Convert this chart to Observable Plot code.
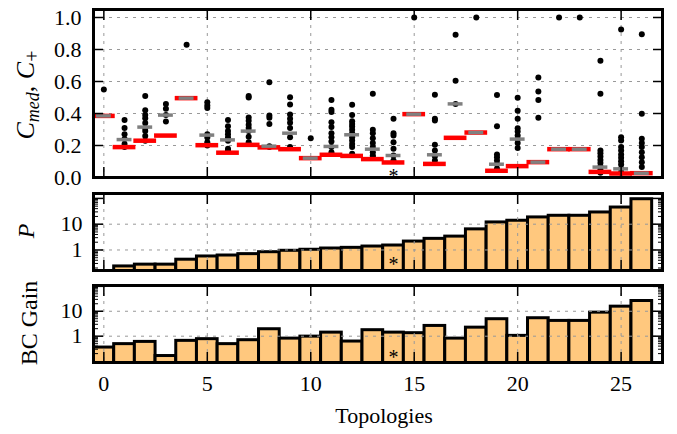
<!DOCTYPE html>
<html>
<head>
<meta charset="utf-8">
<script src="https://cdn.jsdelivr.net/npm/d3@7"></script>
<script src="https://cdn.jsdelivr.net/npm/@observablehq/plot@0.6"></script>
<style>
  body { margin: 0; background: #fff; }
  #chart { position: relative; width: 677px; height: 434px; overflow: hidden; font-family: "Liberation Serif", "Times New Roman", "DejaVu Serif", serif; }
  #chart > svg { position: absolute; left: 0; overflow: visible; }
  #chart text { font-family: "Liberation Serif", "Times New Roman", "DejaVu Serif", serif; }
</style>
</head>
<body>
<div id="chart"></div>
<script>
// ---------- data ----------
const topologies = [0,1,2,3,4,5,6,7,8,9,10,11,12,13,14,15,16,17,18,19,20,21,22,23,24,25,26];
const cMed = [0.385,0.19,0.23,0.262,0.496,0.202,0.155,0.204,0.188,0.177,0.121,0.142,0.135,0.115,0.094,0.396,0.085,0.248,0.281,0.042,0.071,0.096,0.177,0.177,0.035,0.025,0.027];
const cPlusMedian = [0.385,0.237,0.315,0.39,0.496,0.265,0.235,0.29,0.196,0.277,0.121,0.194,0.267,0.177,0.1375,0.396,0.142,0.46,0.281,0.083,0.24,0.096,0.177,0.177,0.065,0.054,0.027];
const cPlusValues = [
  [0.55],
  [0.36,0.31,0.27,0.24,0.21,0.19],
  [0.51,0.42,0.39,0.37,0.34,0.31,0.29,0.26,0.23],
  [0.46,0.43,0.39,0.35],
  [0.83],
  [0.47,0.45,0.435,0.27,0.25,0.22,0.2],
  [0.36,0.32,0.29,0.27,0.25,0.23,0.18,0.17],
  [0.51,0.5,0.375,0.355,0.33,0.31,0.29,0.255,0.22],
  [0.596,0.388,0.373,0.335,0.196,0.19],
  [0.502,0.456,0.394,0.367,0.342,0.31,0.252,0.19],
  [0.246],
  [0.485,0.423,0.41,0.346,0.315,0.277,0.252,0.225,0.19,0.158],
  [0.454,0.39,0.352,0.335,0.319,0.298,0.277,0.252,0.231,0.21,0.19,0.148],
  [0.523,0.298,0.277,0.246,0.215,0.19,0.158,0.138,0.128],
  [0.367,0.277,0.263,0.221,0.179,0.138,0.106],
  [1.0],
  [0.517,0.367,0.356,0.204,0.169,0.133,0.106],
  [0.892,0.604,0.46],
  [1.0],
  [0.515,0.32,0.144,0.127,0.106,0.083,0.054],
  [0.498,0.417,0.367,0.308,0.288,0.263,0.24,0.215,0.185],
  [0.625,0.538,0.485,0.373],
  [1.0],
  [1.0],
  [0.729,0.523,0.169,0.152,0.131,0.110,0.09,0.069,0.048,0.03],
  [0.925,0.252,0.231,0.19,0.169,0.144,0.123,0.102,0.081,0.054,0.03],
  [0.896,0.398,0.242,0.215,0.19,0.158,0.127,0.096,0.065]
];
const pValues = [0.1,0.23,0.27,0.27,0.42,0.56,0.61,0.69,0.82,0.93,1.02,1.14,1.21,1.36,1.49,2.12,2.7,3.3,6.3,11.7,13.6,18.3,21.2,21.2,28.5,44.3,93];
const bcGain = [0.35,0.48,0.59,0.16,0.65,0.76,0.48,0.69,1.9,0.8,0.96,1.39,0.61,1.74,1.39,1.32,2.58,0.8,2.2,4.8,1.03,5.25,4.1,4.1,8.8,15.3,25.8];
const markedTopology = 14;
const xTicks = [0,5,10,15,20,25];
const cTicks = [0,0.2,0.4,0.6,0.8,1.0];
const logMajor = [1,10,100];
const logLabels = [1,10];
const logMinor = [0.09,0.2,0.3,0.4,0.5,0.6,0.7,0.8,0.9,2,3,4,5,6,7,8,9,20,30,40,50,60,70,80,90];

// ---------- tables ----------
const rows = topologies.map((t,i) => ({t, cMed: cMed[i], cPlus: cPlusMedian[i], p: pValues[i], bc: bcGain[i]}));
const dots = topologies.flatMap((t,i) => cPlusValues[i].map(v => ({t, v})));

const FONT = '"Liberation Serif", "Times New Roman", "DejaVu Serif", serif';
const BAR_FILL = "#ffc87e";
const GRID = {stroke: "#999", strokeDasharray: "3,5", strokeOpacity: 1, strokeWidth: 1};
const chart = document.getElementById("chart");

function inward(yMajor, yMinor, domain) {
  const inside = v => v >= domain[0] && v <= domain[1];
  const m = [
    Plot.axisX(xTicks, {anchor: "top", tickSize: -10, tickFormat: () => "", label: null, strokeWidth: 1.5}),
    Plot.axisX(xTicks, {anchor: "bottom", tickSize: -10, tickFormat: () => "", label: null, strokeWidth: 1.5}),
    Plot.axisY(yMajor.filter(inside), {anchor: "left", tickSize: -10, tickFormat: () => "", label: null, strokeWidth: 1.5}),
    Plot.axisY(yMajor.filter(inside), {anchor: "right", tickSize: -10, tickFormat: () => "", label: null, strokeWidth: 1.5})
  ];
  if (yMinor) {
    m.push(Plot.axisY(yMinor.filter(inside), {anchor: "left", tickSize: -5, tickFormat: () => "", label: null, strokeWidth: 1}));
    m.push(Plot.axisY(yMinor.filter(inside), {anchor: "right", tickSize: -5, tickFormat: () => "", label: null, strokeWidth: 1}));
  }
  return m;
}

function place(svg, top) {
  svg.style.top = top + "px";
  chart.appendChild(svg);
  return svg;
}

function yLabel(svg, x, y, build) {
  const t = d3.select(svg).append("text")
    .attr("transform", `translate(${x},${y}) rotate(-90)`)
    .attr("text-anchor", "middle")
    .style("font-family", FONT)
    .attr("fill", "black");
  build(t);
}

const STYLE = {fontFamily: FONT, fontSize: "22px", background: "transparent", overflow: "visible"};

// ---------- panel 1 ----------
const yDom1 = [0, 1.05];
const p1 = Plot.plot({
  width: 677, height: 185,
  marginLeft: 93, marginRight: 15, marginTop: 9, marginBottom: 8,
  style: STYLE,
  x: {domain: [-0.5, 27]},
  y: {domain: yDom1},
  marks: [
    Plot.gridX(xTicks, GRID),
    Plot.gridY(cTicks.filter(d => d > 0), GRID),
    Plot.dot(dots, {x: "t", y: "v", r: 3, fill: "black", stroke: "none"}),
    Plot.ruleY(rows, {y: "cMed", x1: d => d.t - 0.55, x2: d => d.t + 0.55, stroke: "#ff0000", strokeWidth: 4.5}),
    Plot.ruleY(rows, {y: "cPlus", x1: d => d.t - 0.36, x2: d => d.t + 0.36, stroke: "#808080", strokeWidth: 3.5}),
    Plot.text([markedTopology], {x: d => d, y: 0.0, text: () => "*", fontSize: 20, dy: -1}),
    Plot.frame({stroke: "black", strokeWidth: 3}),
    ...inward(cTicks, null, yDom1),
    Plot.axisY(cTicks, {anchor: "left", tickSize: 0, tickPadding: 12, tickFormat: d3.format(".1f"), label: null})
  ]
});
place(p1, 0);
yLabel(p1, 34, 95, t => {
  t.attr("font-size", 26);
  t.append("tspan").attr("font-style", "italic").text("C");
  t.append("tspan").attr("font-style", "italic").attr("font-size", 18).attr("dy", 5).text("med");
  t.append("tspan").attr("dy", -5).text(", ");
  t.append("tspan").attr("font-style", "italic").text("C");
  t.append("tspan").attr("font-size", 20).attr("dy", 5).text("+");
});

// ---------- panel 2 ----------
const yDom2 = [0.16, 155];
const p2 = Plot.plot({
  width: 677, height: 95,
  marginLeft: 93, marginRight: 15, marginTop: 8, marginBottom: 10,
  style: STYLE,
  x: {domain: [-0.5, 27]},
  y: {type: "log", domain: yDom2},
  marks: [
    Plot.rect(rows, {x1: d => d.t - 0.5, x2: d => d.t + 0.5, y1: 0.01, y2: "p", fill: BAR_FILL, stroke: "black", strokeWidth: 3, clip: true}),
    Plot.gridX(xTicks, GRID),
    Plot.gridY(logLabels, GRID),
    Plot.text([markedTopology], {x: d => d, y: 0.46, text: () => "*", fontSize: 20, dy: 6}),
    Plot.frame({stroke: "black", strokeWidth: 3}),
    ...inward(logMajor, logMinor, yDom2),
    Plot.axisY(logLabels, {anchor: "left", tickSize: 0, tickPadding: 11, tickFormat: d => String(d), label: null})
  ]
});
place(p2, 185);
yLabel(p2, 34, 46, t => {
  t.attr("font-size", 24).attr("font-style", "italic").text("P");
});

// ---------- panel 3 ----------
const yDom3 = [0.088, 108];
const p3 = Plot.plot({
  width: 677, height: 154,
  marginLeft: 93, marginRight: 15, marginTop: 5, marginBottom: 72,
  style: STYLE,
  x: {domain: [-0.5, 27]},
  y: {type: "log", domain: yDom3},
  marks: [
    Plot.rect(rows, {x1: d => d.t - 0.5, x2: d => d.t + 0.5, y1: 0.001, y2: "bc", fill: BAR_FILL, stroke: "black", strokeWidth: 3, clip: true}),
    Plot.gridX(xTicks, GRID),
    Plot.gridY(logLabels, GRID),
    Plot.text([markedTopology], {x: d => d, y: 0.24, text: () => "*", fontSize: 20, dy: 6}),
    Plot.frame({stroke: "black", strokeWidth: 3}),
    ...inward(logMajor, logMinor, yDom3),
    Plot.axisY(logLabels, {anchor: "left", tickSize: 0, tickPadding: 11, tickFormat: d => String(d), label: null}),
    Plot.axisX(xTicks, {anchor: "bottom", tickSize: 0, tickPadding: 13, tickFormat: d => String(d), label: null})
  ]
});
place(p3, 280);
yLabel(p3, 37, 43, t => {
  t.attr("font-size", 24).text("BC Gain");
});
d3.select(p3).append("text")
  .attr("x", 384).attr("y", 143)
  .attr("text-anchor", "middle")
  .style("font-family", FONT)
  .attr("font-size", 22)
  .attr("fill", "black")
  .text("Topologies");
</script>
</body>
</html>
